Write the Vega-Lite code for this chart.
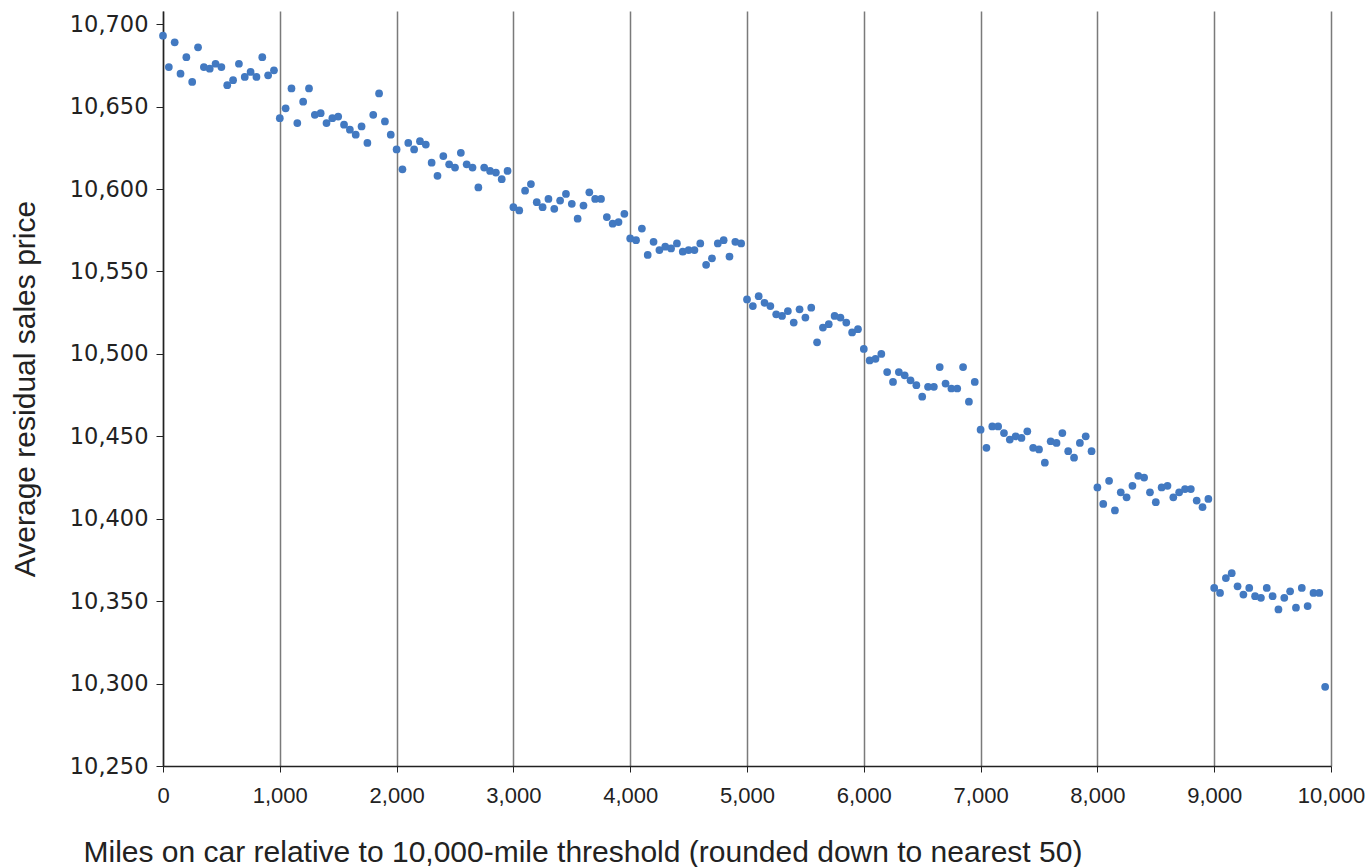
{
  "$schema": "https://vega.github.io/schema/vega-lite/v6.json",
  "width": 1168,
  "height": 755,
  "autosize": {"type": "none"},
  "padding": {"left": 163, "top": 11, "right": 38, "bottom": 101},
  "background": "white",
  "config": {"view": {"stroke": null}},
  "data": {"values": [
    {"miles": 0, "price": 10693}, {"miles": 50, "price": 10674}, {"miles": 100, "price": 10689}, {"miles": 150, "price": 10670}, {"miles": 200, "price": 10680},
    {"miles": 250, "price": 10665}, {"miles": 300, "price": 10686}, {"miles": 350, "price": 10674}, {"miles": 400, "price": 10673}, {"miles": 450, "price": 10676},
    {"miles": 500, "price": 10674}, {"miles": 550, "price": 10663}, {"miles": 600, "price": 10666}, {"miles": 650, "price": 10676}, {"miles": 700, "price": 10668},
    {"miles": 750, "price": 10671}, {"miles": 800, "price": 10668}, {"miles": 850, "price": 10680}, {"miles": 900, "price": 10669}, {"miles": 950, "price": 10672},
    {"miles": 1000, "price": 10643}, {"miles": 1050, "price": 10649}, {"miles": 1100, "price": 10661}, {"miles": 1150, "price": 10640}, {"miles": 1200, "price": 10653},
    {"miles": 1250, "price": 10661}, {"miles": 1300, "price": 10645}, {"miles": 1350, "price": 10646}, {"miles": 1400, "price": 10640}, {"miles": 1450, "price": 10643},
    {"miles": 1500, "price": 10644}, {"miles": 1550, "price": 10639}, {"miles": 1600, "price": 10636}, {"miles": 1650, "price": 10633}, {"miles": 1700, "price": 10638},
    {"miles": 1750, "price": 10628}, {"miles": 1800, "price": 10645}, {"miles": 1850, "price": 10658}, {"miles": 1900, "price": 10641}, {"miles": 1950, "price": 10633},
    {"miles": 2000, "price": 10624}, {"miles": 2050, "price": 10612}, {"miles": 2100, "price": 10628}, {"miles": 2150, "price": 10624}, {"miles": 2200, "price": 10629},
    {"miles": 2250, "price": 10627}, {"miles": 2300, "price": 10616}, {"miles": 2350, "price": 10608}, {"miles": 2400, "price": 10620}, {"miles": 2450, "price": 10615},
    {"miles": 2500, "price": 10613}, {"miles": 2550, "price": 10622}, {"miles": 2600, "price": 10615}, {"miles": 2650, "price": 10613}, {"miles": 2700, "price": 10601},
    {"miles": 2750, "price": 10613}, {"miles": 2800, "price": 10611}, {"miles": 2850, "price": 10610}, {"miles": 2900, "price": 10606}, {"miles": 2950, "price": 10611},
    {"miles": 3000, "price": 10589}, {"miles": 3050, "price": 10587}, {"miles": 3100, "price": 10599}, {"miles": 3150, "price": 10603}, {"miles": 3200, "price": 10592},
    {"miles": 3250, "price": 10589}, {"miles": 3300, "price": 10594}, {"miles": 3350, "price": 10588}, {"miles": 3400, "price": 10593}, {"miles": 3450, "price": 10597},
    {"miles": 3500, "price": 10591}, {"miles": 3550, "price": 10582}, {"miles": 3600, "price": 10590}, {"miles": 3650, "price": 10598}, {"miles": 3700, "price": 10594},
    {"miles": 3750, "price": 10594}, {"miles": 3800, "price": 10583}, {"miles": 3850, "price": 10579}, {"miles": 3900, "price": 10580}, {"miles": 3950, "price": 10585},
    {"miles": 4000, "price": 10570}, {"miles": 4050, "price": 10569}, {"miles": 4100, "price": 10576}, {"miles": 4150, "price": 10560}, {"miles": 4200, "price": 10568},
    {"miles": 4250, "price": 10563}, {"miles": 4300, "price": 10565}, {"miles": 4350, "price": 10564}, {"miles": 4400, "price": 10567}, {"miles": 4450, "price": 10562},
    {"miles": 4500, "price": 10563}, {"miles": 4550, "price": 10563}, {"miles": 4600, "price": 10567}, {"miles": 4650, "price": 10554}, {"miles": 4700, "price": 10558},
    {"miles": 4750, "price": 10567}, {"miles": 4800, "price": 10569}, {"miles": 4850, "price": 10559}, {"miles": 4900, "price": 10568}, {"miles": 4950, "price": 10567},
    {"miles": 5000, "price": 10533}, {"miles": 5050, "price": 10529}, {"miles": 5100, "price": 10535}, {"miles": 5150, "price": 10531}, {"miles": 5200, "price": 10529},
    {"miles": 5250, "price": 10524}, {"miles": 5300, "price": 10523}, {"miles": 5350, "price": 10526}, {"miles": 5400, "price": 10519}, {"miles": 5450, "price": 10527},
    {"miles": 5500, "price": 10522}, {"miles": 5550, "price": 10528}, {"miles": 5600, "price": 10507}, {"miles": 5650, "price": 10516}, {"miles": 5700, "price": 10518},
    {"miles": 5750, "price": 10523}, {"miles": 5800, "price": 10522}, {"miles": 5850, "price": 10519}, {"miles": 5900, "price": 10513}, {"miles": 5950, "price": 10515},
    {"miles": 6000, "price": 10503}, {"miles": 6050, "price": 10496}, {"miles": 6100, "price": 10497}, {"miles": 6150, "price": 10500}, {"miles": 6200, "price": 10489},
    {"miles": 6250, "price": 10483}, {"miles": 6300, "price": 10489}, {"miles": 6350, "price": 10487}, {"miles": 6400, "price": 10484}, {"miles": 6450, "price": 10481},
    {"miles": 6500, "price": 10474}, {"miles": 6550, "price": 10480}, {"miles": 6600, "price": 10480}, {"miles": 6650, "price": 10492}, {"miles": 6700, "price": 10482},
    {"miles": 6750, "price": 10479}, {"miles": 6800, "price": 10479}, {"miles": 6850, "price": 10492}, {"miles": 6900, "price": 10471}, {"miles": 6950, "price": 10483},
    {"miles": 7000, "price": 10454}, {"miles": 7050, "price": 10443}, {"miles": 7100, "price": 10456}, {"miles": 7150, "price": 10456}, {"miles": 7200, "price": 10452},
    {"miles": 7250, "price": 10448}, {"miles": 7300, "price": 10450}, {"miles": 7350, "price": 10449}, {"miles": 7400, "price": 10453}, {"miles": 7450, "price": 10443},
    {"miles": 7500, "price": 10442}, {"miles": 7550, "price": 10434}, {"miles": 7600, "price": 10447}, {"miles": 7650, "price": 10446}, {"miles": 7700, "price": 10452},
    {"miles": 7750, "price": 10441}, {"miles": 7800, "price": 10437}, {"miles": 7850, "price": 10446}, {"miles": 7900, "price": 10450}, {"miles": 7950, "price": 10441},
    {"miles": 8000, "price": 10419}, {"miles": 8050, "price": 10409}, {"miles": 8100, "price": 10423}, {"miles": 8150, "price": 10405}, {"miles": 8200, "price": 10416},
    {"miles": 8250, "price": 10413}, {"miles": 8300, "price": 10420}, {"miles": 8350, "price": 10426}, {"miles": 8400, "price": 10425}, {"miles": 8450, "price": 10416},
    {"miles": 8500, "price": 10410}, {"miles": 8550, "price": 10419}, {"miles": 8600, "price": 10420}, {"miles": 8650, "price": 10413}, {"miles": 8700, "price": 10416},
    {"miles": 8750, "price": 10418}, {"miles": 8800, "price": 10418}, {"miles": 8850, "price": 10411}, {"miles": 8900, "price": 10407}, {"miles": 8950, "price": 10412},
    {"miles": 9000, "price": 10358}, {"miles": 9050, "price": 10355}, {"miles": 9100, "price": 10364}, {"miles": 9150, "price": 10367}, {"miles": 9200, "price": 10359},
    {"miles": 9250, "price": 10354}, {"miles": 9300, "price": 10358}, {"miles": 9350, "price": 10353}, {"miles": 9400, "price": 10352}, {"miles": 9450, "price": 10358},
    {"miles": 9500, "price": 10353}, {"miles": 9550, "price": 10345}, {"miles": 9600, "price": 10352}, {"miles": 9650, "price": 10356}, {"miles": 9700, "price": 10346},
    {"miles": 9750, "price": 10358}, {"miles": 9800, "price": 10347}, {"miles": 9850, "price": 10355}, {"miles": 9900, "price": 10355}, {"miles": 9950, "price": 10298}
  ]},
  "mark": {"type": "circle", "size": 60, "color": "#4279c1", "opacity": 1},
  "encoding": {
    "x": {
      "field": "miles", "type": "quantitative",
      "scale": {"domain": [0, 10000], "nice": false, "zero": false},
      "axis": {
        "title": "Miles on car relative to 10,000-mile threshold (rounded down to nearest 50)",
        "values": [0, 1000, 2000, 3000, 4000, 5000, 6000, 7000, 8000, 9000, 10000],
        "format": ",d",
        "grid": true, "gridColor": "#7a7a7a", "gridWidth": 1.5,
        "domainColor": "#222222", "domainWidth": 1.5,
        "tickColor": "#222222", "tickSize": 6, "tickWidth": 1,
        "labelFont": "Liberation Sans", "labelFontSize": 22, "labelColor": "#222222",
        "labelPadding": 13, "labelFlush": false,
        "titleFont": "Liberation Sans", "titleFontSize": 30, "titleFontWeight": "normal", "titleColor": "#222222",
        "titleAnchor": "start", "titleAlign": "left", "titleX": -80,
        "titlePadding": 31
      }
    },
    "y": {
      "field": "price", "type": "quantitative",
      "scale": {"domain": [10250, 10708], "nice": false, "zero": false},
      "axis": {
        "title": "Average residual sales price",
        "values": [10250, 10300, 10350, 10400, 10450, 10500, 10550, 10600, 10650, 10700],
        "format": ",d",
        "grid": false,
        "domainColor": "#222222", "domainWidth": 1.5,
        "tickColor": "#222222", "tickSize": 7, "tickWidth": 1,
        "labelFont": "DejaVu Sans", "labelFontSize": 22.5, "labelColor": "#222222",
        "labelPadding": 8,
        "titleFont": "Liberation Sans", "titleFontSize": 30, "titleFontWeight": "normal", "titleColor": "#222222",
        "titlePadding": 29
      }
    }
  }
}
